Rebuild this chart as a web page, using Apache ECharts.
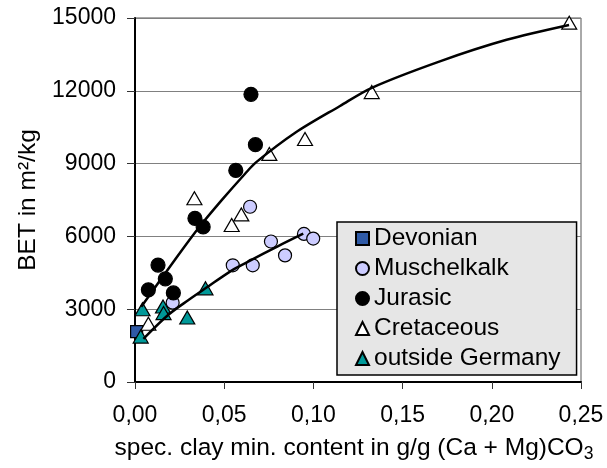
<!DOCTYPE html>
<html>
<head>
<meta charset="utf-8">
<script src="https://cdn.jsdelivr.net/npm/echarts@6/dist/echarts.min.js"></script>
<style>
  html, body { margin: 0; padding: 0; background: #fff; }
  #chart { width: 607px; height: 468px; }
</style>
</head>
<body>
<div id="chart"></div>
<script>
// Measured points: [clay mineral content (g/g), BET (m2/kg)]
const devonian = [[0.0009, 2080]];
const muschelkalk = [[0.0211, 3270], [0.0548, 4810], [0.066, 4810], [0.0645, 7221], [0.0762, 5790], [0.0841, 5218], [0.0947, 6101], [0.0999, 5910]];
const jurasic = [[0.0075, 3800], [0.0129, 4820], [0.017, 4250], [0.0215, 3670], [0.0336, 6744], [0.0382, 6390], [0.0565, 8718], [0.065, 11853], [0.0675, 9781]];
const cretaceous = [[0.0075, 2400], [0.0333, 7570], [0.0542, 6470], [0.0596, 6907], [0.0753, 9400], [0.0953, 10013], [0.1327, 11947], [0.2434, 14808]];
const outsideGermany = [[0.0032, 1870], [0.0042, 2996], [0.0157, 3110], [0.016, 2840], [0.0293, 2657], [0.0395, 3860]];

// Trend curves
const trendUpper = [[0.0035, 3100], [0.0131, 4087], [0.0224, 5040], [0.0355, 6335], [0.0486, 7493], [0.0617, 8583], [0.0678, 9050], [0.09, 10280], [0.1149, 11374], [0.1327, 12124], [0.1709, 13214], [0.2083, 14101], [0.2433, 14714]];
const trendLower = [[0.0047, 1780], [0.0187, 2770], [0.0298, 3370], [0.0395, 3860], [0.0548, 4620], [0.0645, 5000], [0.08, 5590], [0.0943, 6110]];

// Axis ranges
const xMin = 0, xMax = 0.25, xStep = 0.05;
const yMin = 0, yMax = 15000, yStep = 3000;

const FONT = "'Liberation Sans', Arial, Helvetica, sans-serif";
const chart = echarts.init(document.getElementById('chart'), null, { renderer: 'canvas' });

function scatter(name, data, symbol, size, color) {
  return {
    name: name, type: 'scatter', data: data, symbol: symbol, symbolSize: size,
    itemStyle: { color: color, borderColor: '#000', borderWidth: 1.2, opacity: 1 },
    emphasis: { disabled: true }, z: 3
  };
}
function trend(data) {
  return {
    type: 'line', data: data, smooth: 0.3, showSymbol: false, silent: true,
    lineStyle: { color: '#000', width: 2.5 }, z: 5
  };
}

chart.setOption({
  animation: false,
  backgroundColor: '#fff',
  textStyle: { fontFamily: FONT, color: '#000' },
  grid: { left: 135, right: 26, top: 18, bottom: 83, show: true, borderColor: '#555', borderWidth: 1 },
  legend: {
    data: ['Devonian', 'Muschelkalk', 'Jurasic', 'Cretaceous', 'outside Germany'],
    orient: 'vertical', left: 337, top: 222,
    padding: [4, 16, 4, 18], itemGap: 5, itemWidth: 13, itemHeight: 13,
    backgroundColor: '#e6e6e6', borderColor: '#000', borderWidth: 1.5,
    textStyle: { fontFamily: FONT, fontSize: 24.5, color: '#000' },
    selectedMode: false
  },
  xAxis: {
    type: 'value', min: xMin, max: xMax, interval: xStep,
    name: 'spec. clay min. content in g/g (Ca + Mg)CO{sub|3}',
    nameLocation: 'middle', nameGap: 51,
    nameTextStyle: {
      fontFamily: FONT, fontSize: 24.5, color: '#000', padding: [0, 8, 0, 0],
      rich: { sub: { fontFamily: FONT, fontSize: 17.5, color: '#000', padding: [12, 0, 0, 0], verticalAlign: 'bottom' } }
    },
    axisLine: { show: true, onZero: false, lineStyle: { color: '#000', width: 2 } },
    axisTick: { show: true, inside: false, length: 7, lineStyle: { color: '#333', width: 1 } },
    axisLabel: { margin: 22, fontFamily: FONT, fontSize: 23, color: '#000', formatter: v => v.toFixed(2).replace('.', ',') },
    splitLine: { show: false }
  },
  yAxis: {
    type: 'value', min: yMin, max: yMax, interval: yStep,
    name: 'BET in m²/kg', nameLocation: 'middle', nameGap: 92, nameRotate: 90,
    nameTextStyle: { fontFamily: FONT, fontSize: 24.5, color: '#000' },
    axisLine: { show: true, onZero: false, lineStyle: { color: '#000', width: 2 } },
    axisTick: { show: true, inside: false, length: 8, lineStyle: { color: '#333', width: 1 } },
    axisLabel: { margin: 19, fontFamily: FONT, fontSize: 23, color: '#000', formatter: v => String(v) },
    splitLine: { show: true, lineStyle: { color: '#808080', width: 1 } }
  },
  series: [
    scatter('Devonian', devonian, 'rect', 12, '#2f5aa6'),
    scatter('Muschelkalk', muschelkalk, 'circle', 13, '#ccccff'),
    scatter('Jurasic', jurasic, 'circle', 14, '#000'),
    scatter('Cretaceous', cretaceous, 'triangle', [15, 13], '#fff'),
    scatter('outside Germany', outsideGermany, 'triangle', [15, 13], '#009999'),
    trend(trendUpper),
    trend(trendLower)
  ]
});
</script>
</body>
</html>
